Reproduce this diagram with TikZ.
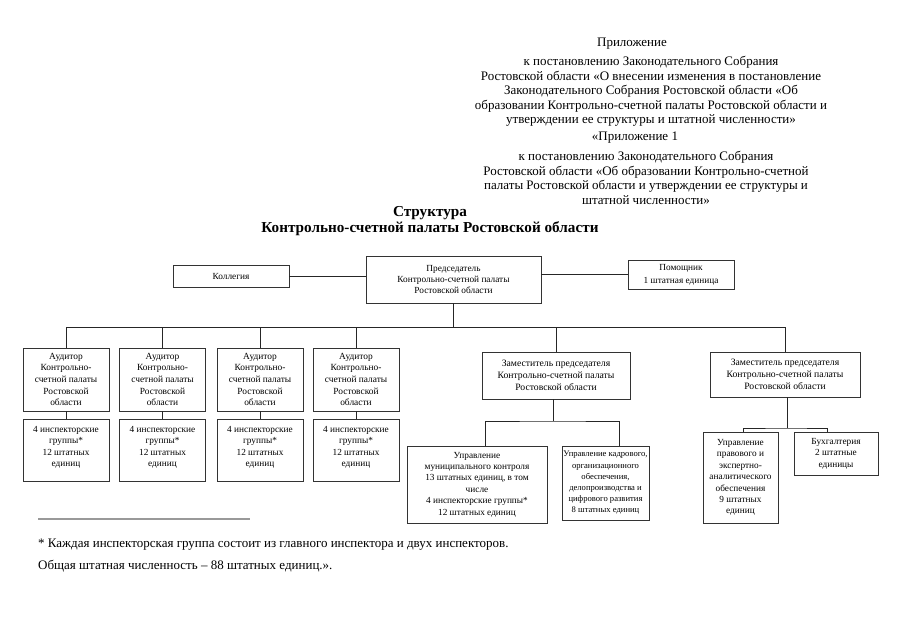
\documentclass[tikz,border=0pt]{standalone}
\usepackage{fontspec}
\setmainfont{Liberation Serif}
\newcommand{\boxfont}{\fontsize{9.3}{11.4}\selectfont}
\newcommand{\smallboxfont}{\fontsize{8.6}{11.2}\selectfont}
\newcommand{\audfont}{\fontsize{9.4}{11.6}\selectfont}
\newcommand{\depfont}{\fontsize{9.7}{12}\selectfont}
\newcommand{\hdrfont}{\fontsize{13}{14.4}\selectfont}
\newcommand{\ttlfont}{\fontsize{15.2}{16}\selectfont\bfseries}
\tikzset{
  box/.style={draw=black!80, line width=0.9pt, align=center, inner sep=0pt, font=\boxfont},
  audbox/.style={box, font=\audfont},
  depbox/.style={box, font=\depfont},
  conn/.style={draw=black!85, line width=0.8pt},
  hdr/.style={align=center, inner sep=0pt, font=\hdrfont},
  foot/.style={anchor=west, inner sep=0pt, font=\hdrfont}
}
\begin{document}
\begin{tikzpicture}[x=1pt,y=-1pt]
\useasboundingbox (0,0) rectangle (905,640);
\fill[white] (0,0) rectangle (905,640);

% header
\node[hdr] (app) at (632,44) {Приложение};
\node[hdr] (blk1) at (651,91.5) {к постановлению Законодательного Собрания\\
Ростовской области «О внесении изменения в постановление\\
Законодательного Собрания Ростовской области «Об\\
образовании Контрольно-счетной палаты Ростовской области и\\
утверждении ее структуры и штатной численности»};
\node[hdr] (app1) at (635,138) {«Приложение 1};
\node[hdr] (blk2) at (646,178) {к постановлению Законодательного Собрания\\
Ростовской области «Об образовании Контрольно-счетной\\
палаты Ростовской области и утверждении ее структуры и\\
штатной численности»};

% title
\node[align=center, inner sep=0pt, font=\ttlfont] (title) at (430,221) {Структура\\Контрольно-счетной палаты Ростовской области};

% top level
\node[box, minimum width=116pt, minimum height=22pt] (kol) at (231,276.5) {Коллегия};
\node[box, minimum width=175pt, minimum height=47pt] (pred) at (453.5,279.5) {Председатель\\Контрольно-счетной палаты\\Ростовской области};
\node[box, minimum width=106pt, minimum height=29pt] (pom) at (681,274.5) {\mbox{}\\[-5pt]Помощник\\[1pt]1 штатная единица};

% auditors
\foreach \i/\x in {1/66,2/162.5,3/260,4/356}{
  \node[audbox, minimum width=86pt, minimum height=63pt] (aud\i) at (\x,379.5) {Аудитор\\Контрольно-\\счетной палаты\\Ростовской\\области};
  \node[box, minimum width=86pt, minimum height=62pt] (insp\i) at (\x,450) {4 инспекторские\\группы*\\12 штатных\\единиц\\[-4pt]\mbox{}};
}

% deputies
\node[depbox, minimum width=148pt, minimum height=47pt] (dep1) at (556,375.5) {Заместитель председателя\\Контрольно-счетной палаты\\Ростовской области};
\node[depbox, minimum width=150pt, minimum height=45pt] (dep2) at (785,374.5) {Заместитель председателя\\Контрольно-счетной палаты\\Ростовской области};

% departments
\node[box, minimum width=140pt, minimum height=77pt] (m1) at (477,484.5) {Управление\\муниципального контроля\\13 штатных единиц, в том\\числе\\4 инспекторские группы*\\12 штатных единиц};
\node[box, font=\smallboxfont, minimum width=87pt, minimum height=74pt] (m2) at (605.5,483) {Управление кадрового,\\организационного\\обеспечения,\\делопроизводства и\\цифрового развития\\8 штатных единиц};
\node[box, minimum width=75pt, minimum height=91pt] (m3) at (740.5,477.5) {Управление\\правового и\\экспертно-\\аналитического\\обеспечения\\9 штатных\\единиц};
\node[box, minimum width=84pt, minimum height=43pt] (m4) at (836,453.5) {Бухгалтерия\\2 штатные\\единицы};

% connectors top
\draw[conn] (kol.east) -- (kol.east -| pred.west);
\draw[conn] (pred.east |- pom.west) -- (pom.west);
\coordinate (bus) at (453.5,327);
\draw[conn] (pred.south) -- (bus);
\draw[conn] (aud1.north |- bus) -- (dep2.north |- bus);
\foreach \n in {aud1,aud2,aud3,aud4,dep1,dep2}{
  \draw[conn] (\n.north |- bus) -- (\n.north);
}
\foreach \i in {1,2,3,4}{
  \draw[conn] (aud\i.south) -- (insp\i.north);
}

% deputy 1 branch
\coordinate (j1) at (553,421);
\draw[conn] (dep1.south -| j1) -- (j1);
\draw[conn] ([xshift=8pt]m1.north) |- (j1) -| ([xshift=13.5pt]m2.north);

% deputy 2 branch
\coordinate (j2) at (787,428);
\draw[conn] (dep2.south -| j2) -- (j2);
\draw[conn] ([xshift=2.5pt]m3.north) |- (j2) -| ([xshift=-9pt]m4.north);

% footnote
\draw[black!40, line width=1.2pt] (38,519) -- (250,519);
\node[foot] (fn1) at (38,545) {* Каждая инспекторская группа состоит из главного инспектора и двух инспекторов.};
\node[foot] (fn2) at (38,566) {Общая штатная численность – 88 штатных единиц.».};
\end{tikzpicture}
\end{document}
